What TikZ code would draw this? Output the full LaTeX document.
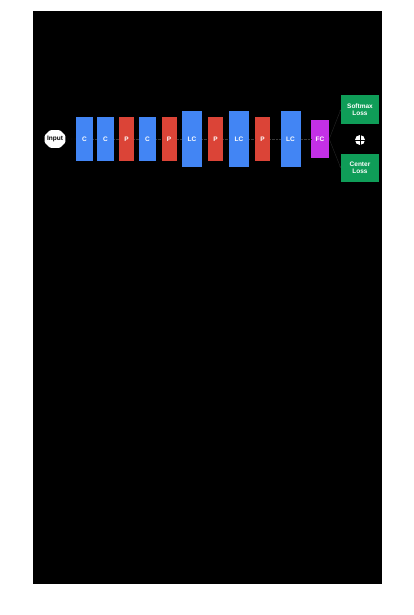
\documentclass[tikz,border=0pt]{standalone}
\usepackage{fontspec}
\setsansfont{Liberation Sans}
\usetikzlibrary{arrows.meta, positioning, shapes.misc}
\definecolor{convblue}{RGB}{66,133,244}
\definecolor{poolred}{RGB}{219,68,55}
\definecolor{lossgreen}{RGB}{15,157,88}
\definecolor{fcmagenta}{RGB}{196,48,230}
\tikzset{
    blk/.style={draw=none, inner sep=0pt, text=white,
        font=\sffamily\bfseries\fontsize{6.5}{7.5}\selectfont},
    convblk/.style={blk, fill=convblue, minimum width=17pt, minimum height=44pt},
    poolblk/.style={blk, fill=poolred, minimum width=15pt, minimum height=44pt},
    lcblk/.style={blk, fill=convblue, minimum width=20pt, minimum height=56pt},
    fcblk/.style={blk, fill=fcmagenta, minimum width=18pt, minimum height=38pt},
    lossblk/.style={blk, fill=lossgreen, minimum width=38pt, minimum height=28pt, align=center},
    link/.style={gray!45!black, densely dotted, thin},
    lossarrow/.style={gray!30!black, thin, -{Stealth[length=2pt]}}
}

\begin{document}
\begin{tikzpicture}[x=1pt, y=-1pt]
    % Canvas
    \useasboundingbox (0,0) rectangle (414,615);
    \fill[white] (0,0) rectangle (414,615);
    \fill[black] (33,11) rectangle (382,584);
    % Input
    \node[chamfered rectangle, chamfered rectangle xsep=2.5pt, fill=white,
        inner xsep=0pt, inner ysep=3pt, rounded corners=1pt,
        font=\sffamily\bfseries\fontsize{6.5}{7}\selectfont] (inp) at (55,139) {Input};
    % Layers
    \foreach \n/\x/\s/\t in {c1/84.5/convblk/C, c2/105.5/convblk/C, p1/126.5/poolblk/P,
        c3/147.5/convblk/C, p2/169/poolblk/P, lc1/192/lcblk/LC, p3/215.5/poolblk/P,
        lc2/239/lcblk/LC, p4/262.5/poolblk/P, lc3/290.5/lcblk/LC, fc/320/fcblk/FC} {
        \node[\s] (\n) at (\x,139) {\t};
    }
    % Flow between layers
    \foreach \a/\b in {inp/c1, c1/c2, c2/p1, p1/c3, c3/p2, p2/lc1, lc1/p3,
        p3/lc2, lc2/p4, p4/lc3, lc3/fc} {
        \draw[link] (\a) -- (\b);
    }
    % Losses
    \node[lossblk, minimum height=29pt] (softmax) at (360,109.5) {Softmax\\Loss};
    \node[lossblk] (center) at (360,168) {Center\\Loss};
    \node[circle, fill=white, inner sep=0pt, minimum size=10pt] (plus) at (360,140) {};
    \draw[black, line width=1pt] (plus.north) -- (plus.south);
    \draw[black, line width=1pt] (plus.west) -- (plus.east);
    \draw[lossarrow] (fc.east) -- (softmax.west);
    \draw[lossarrow] (fc.east) -- (center.west);
\end{tikzpicture}
\end{document}
